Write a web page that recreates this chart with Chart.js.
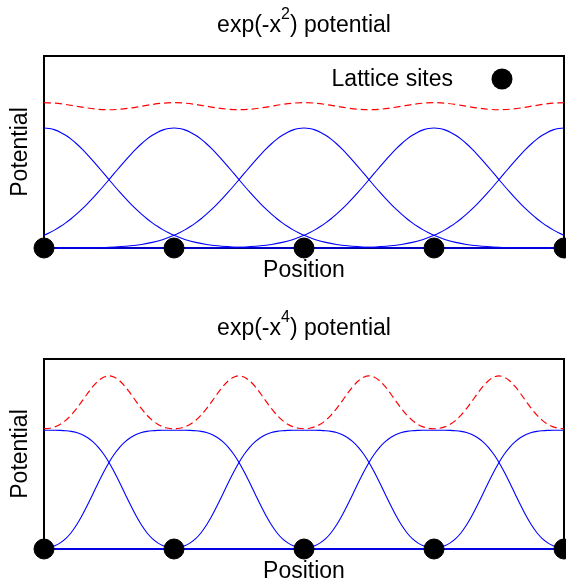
<!DOCTYPE html>
<html>
<head>
<meta charset="utf-8">
<title>Lattice potentials</title>
<script src="https://cdn.jsdelivr.net/npm/chart.js@4.4.1/dist/chart.umd.min.js"></script>
<style>
  html, body { margin: 0; padding: 0; background: #fff; overflow: hidden; }
  #wrap { position: relative; width: 566px; height: 586px; }
  canvas { position: absolute; left: 0; }
</style>
</head>
<body>
<div id="wrap">
  <canvas id="gaussChart" width="566" height="293" style="top:0"></canvas>
  <canvas id="quarticChart" width="566" height="293" style="top:293px"></canvas>
</div>
<script>
// Lattice site positions (x) and their marker height
const siteX = [0, 1.5, 3, 4.5, 6];
const siteY = [0, 0, 0, 0, 0];

// One-sided offsets from a site centre, and the height of a single site's bump there
const bumpOffsets = [0, 0.0625, 0.125, 0.1875, 0.25, 0.3125, 0.375, 0.4375, 0.5, 0.5625,
  0.625, 0.6875, 0.75, 0.8125, 0.875, 0.9375, 1.0, 1.0625, 1.125, 1.1875, 1.25, 1.3125,
  1.375, 1.4375, 1.5, 1.625, 1.75, 1.875, 2.0, 2.25, 2.5, 3.0, 6.0];
const gaussBump = [1.0, 0.9961, 0.9845, 0.9655, 0.9394, 0.9070, 0.8688, 0.8258, 0.7788, 0.7288,
  0.6767, 0.6233, 0.5698, 0.5168, 0.4650, 0.4152, 0.3679, 0.3234, 0.2821, 0.2441, 0.2096, 0.1786,
  0.1510, 0.1266, 0.1054, 0.0713, 0.0468, 0.0297, 0.0183, 0.0063, 0.0019, 0.0001, 0.0];
const quarticBump = [1.0, 1.0, 0.9998, 0.9988, 0.9961, 0.9905, 0.9804, 0.9640, 0.9394, 0.9047,
  0.8585, 0.7998, 0.7288, 0.6468, 0.5565, 0.4619, 0.3679, 0.2796, 0.2015, 0.1369, 0.0870, 0.0514,
  0.0280, 0.0140, 0.0063, 0.0009, 0.0001, 0.0, 0.0, 0.0, 0.0, 0.0, 0.0];

// Total potential over one lattice period (offset from a site, value)
const gaussPeriodOffsets = [0, 0.125, 0.25, 0.375, 0.5, 0.625, 0.75, 0.875, 1.0, 1.125, 1.25, 1.375, 1.5];
const gaussTotal = [1.2111, 1.2071, 1.1963, 1.1816, 1.1669, 1.1562, 1.1522, 1.1562, 1.1669, 1.1816, 1.1963, 1.2071, 1.2111];
const quarticPeriodOffsets = [0, 0.0625, 0.125, 0.1875, 0.25, 0.3125, 0.375, 0.4375, 0.5, 0.5625, 0.625, 0.6875,
  0.75, 0.8125, 0.875, 0.9375, 1.0, 1.0625, 1.125, 1.1875, 1.25, 1.3125, 1.375, 1.4375, 1.5];
const quarticTotal = [1.0127, 1.0166, 1.0287, 1.0505, 1.0833, 1.1274, 1.1819, 1.2436, 1.3073, 1.3666, 1.4150, 1.4466,
  1.4576, 1.4466, 1.4150, 1.3666, 1.3073, 1.2436, 1.1819, 1.1274, 1.0833, 1.0505, 1.0287, 1.0166, 1.0127];

// Axis ranges and text
const positionRange = [0, 6];
const potentialRange = [0, 1.6];
const gaussTitle = ['exp(-x', '2', ') potential'];
const quarticTitle = ['exp(-x', '4', ') potential'];
const xLabel = 'Position';
const yLabel = 'Potential';
const sitesLabel = 'Lattice sites';

const FONT = "'Liberation Sans', Arial, Helvetica, sans-serif";
const BLUE = 'rgb(0,0,255)';
const RED = 'rgb(255,0,0)';

// Mirror a one-sided bump profile around a site centre
function bumpPoints(center, offsets, values) {
  const pts = [];
  for (let i = offsets.length - 1; i > 0; i--) pts.push({ x: center - offsets[i], y: values[i] });
  for (let i = 0; i < offsets.length; i++) pts.push({ x: center + offsets[i], y: values[i] });
  return pts;
}

// Repeat one period of the total potential between consecutive sites
function periodicPoints(offsets, values) {
  const pts = [];
  for (let k = 0; k < siteX.length - 1; k++) {
    offsets.forEach((o, i) => {
      if (i === 0 && k > 0) return;
      pts.push({ x: siteX[k] + o, y: values[i] });
    });
  }
  return pts;
}

// Frame, title with superscript and in-plot key
const figureText = {
  id: 'figureText',
  beforeDatasetsDraw(chart) {
    const { ctx, chartArea: a } = chart;
    ctx.save();
    ctx.strokeStyle = '#000';
    ctx.lineWidth = 2;
    ctx.strokeRect(a.left, a.top, a.right - a.left, a.bottom - a.top);
    ctx.restore();
  },
  afterDraw(chart, args, opts) {
    const { ctx, chartArea: a } = chart;
    ctx.save();
    ctx.fillStyle = '#000';
    ctx.textBaseline = 'alphabetic';
    ctx.textAlign = 'left';
    const [pre, sup, post] = opts.title;
    const mainFont = '23px ' + FONT;
    const supFont = '16px ' + FONT;
    ctx.font = mainFont;
    const w1 = ctx.measureText(pre).width;
    const w3 = ctx.measureText(post).width;
    ctx.font = supFont;
    const w2 = ctx.measureText(sup).width;
    const total = w1 + w2 + w3;
    const cx = (a.left + a.right) / 2;
    const base = a.top - 24;
    let x = cx - total / 2;
    ctx.font = mainFont;
    ctx.fillText(pre, x, base);
    x += w1;
    ctx.font = supFont;
    ctx.fillText(sup, x, base - 13);
    x += w2;
    ctx.font = mainFont;
    ctx.fillText(post, x, base);

    if (opts.key) {
      ctx.font = mainFont;
      ctx.textAlign = 'right';
      ctx.fillText(sitesLabel, a.right - 111, a.top + 30);
      ctx.beginPath();
      ctx.arc(a.right - 62, a.top + 23, 10.5, 0, Math.PI * 2);
      ctx.fill();
    }
    ctx.restore();
  }
};

function makeChart(canvasId, bump, periodOffsets, total, title, key, padTop, padBottom) {
  const datasets = [
    {
      label: sitesLabel,
      data: siteX.map((x, i) => ({ x, y: siteY[i] })),
      backgroundColor: '#000',
      borderColor: '#000',
      pointRadius: 10,
      pointBorderWidth: 1,
      showLine: false,
      clip: false
    },
    {
      label: 'total',
      data: periodicPoints(periodOffsets, total),
      borderColor: RED,
      borderWidth: 1.2,
      borderDash: [7, 4],
      pointRadius: 0,
      showLine: true,
      cubicInterpolationMode: 'monotone',
      clip: { left: 0, top: 0, right: 0, bottom: 2 }
    }
  ];
  siteX.forEach((c) => {
    datasets.push({
      label: 'site ' + c,
      data: bumpPoints(c, bumpOffsets, bump),
      borderColor: BLUE,
      borderWidth: 1.1,
      pointRadius: 0,
      showLine: true,
      cubicInterpolationMode: 'monotone',
      clip: { left: 0, top: 0, right: 0, bottom: 2 }
    });
  });

  return new Chart(document.getElementById(canvasId), {
    type: 'scatter',
    data: { datasets },
    options: {
      responsive: false,
      animation: false,
      events: [],
      layout: { autoPadding: false, padding: { top: padTop, right: 2, bottom: padBottom, left: 0 } },
      plugins: {
        legend: { display: false },
        tooltip: { enabled: false },
        title: { display: false },
        figureText: { title, key }
      },
      scales: {
        x: {
          type: 'linear',
          min: positionRange[0],
          max: positionRange[1],
          grid: { display: false, drawTicks: false },
          border: { display: false },
          ticks: { display: false },
          title: {
            display: true,
            text: xLabel,
            color: '#000',
            font: { family: FONT, size: 23 },
            padding: { top: 9.2, bottom: 0 }
          }
        },
        y: {
          type: 'linear',
          min: potentialRange[0],
          max: potentialRange[1],
          grid: { display: false, drawTicks: false },
          border: { display: false },
          ticks: { display: false },
          title: {
            display: true,
            text: yLabel,
            color: '#000',
            font: { family: FONT, size: 23 },
            padding: { top: 6.7, bottom: 9.7 }
          }
        }
      }
    },
    plugins: [figureText]
  });
}

makeChart('gaussChart', gaussBump, gaussPeriodOffsets, gaussTotal, gaussTitle, true, 56, 8.2);
makeChart('quarticChart', quarticBump, quarticPeriodOffsets, quarticTotal, quarticTitle, false, 66, 0.2);
</script>
</body>
</html>
